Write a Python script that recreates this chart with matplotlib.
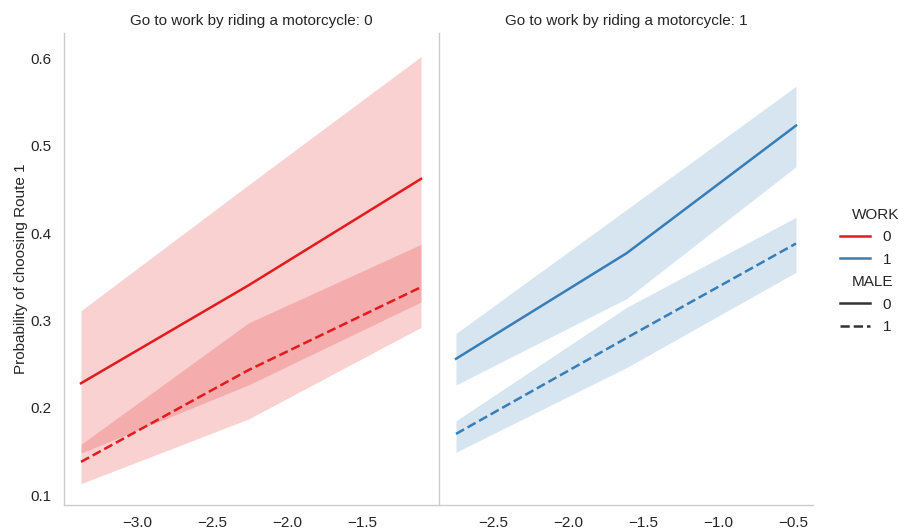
import matplotlib
matplotlib.use("Agg")
import matplotlib.pyplot as plt
from matplotlib.lines import Line2D
from matplotlib.ticker import FuncFormatter

plt.rcParams["font.family"] = ["Liberation Sans", "DejaVu Sans"]

# Panel 0: does not ride a motorcycle to work (WORK = 0)
x_moto0 = [-3.375, -2.26, -1.11]
p_moto0_male0 = [0.228, 0.340, 0.462]
lo_moto0_male0 = [0.113, 0.187, 0.292]
hi_moto0_male0 = [0.311, 0.455, 0.602]
p_moto0_male1 = [0.138, 0.243, 0.338]
lo_moto0_male1 = [0.148, 0.226, 0.321]
hi_moto0_male1 = [0.158, 0.297, 0.387]

# Panel 1: rides a motorcycle to work (WORK = 1)
x_moto1 = [-2.75, -1.61, -0.48]
p_moto1_male0 = [0.256, 0.377, 0.523]
lo_moto1_male0 = [0.226, 0.325, 0.476]
hi_moto1_male0 = [0.285, 0.427, 0.568]
p_moto1_male1 = [0.170, 0.280, 0.388]
lo_moto1_male1 = [0.149, 0.246, 0.355]
hi_moto1_male1 = [0.185, 0.315, 0.418]

panel_titles = ["Go to work by riding a motorcycle: 0",
                "Go to work by riding a motorcycle: 1"]
y_ticks = [0.1, 0.2, 0.3, 0.4, 0.5, 0.6]
x_ticks0 = [-3.0, -2.5, -2.0, -1.5]
x_ticks1 = [-2.5, -2.0, -1.5, -1.0, -0.5]

red = "#e41a1c"
blue = "#377eb8"
spine_col = "#cccccc"
text_col = "#262626"
lw = 1.8

fig = plt.figure(figsize=(8.99, 5.31), dpi=100)
ax0 = fig.add_axes([64 / 899, 1 - 505 / 531, 374 / 899, 472 / 531])
ax1 = fig.add_axes([439 / 899, 1 - 505 / 531, 374 / 899, 472 / 531], sharey=ax0)

panels = [
    (ax0, x_moto0, red,
     [(p_moto0_male0, lo_moto0_male0, hi_moto0_male0, "-"),
      (p_moto0_male1, lo_moto0_male1, hi_moto0_male1, "--")]),
    (ax1, x_moto1, blue,
     [(p_moto1_male0, lo_moto1_male0, hi_moto1_male0, "-"),
      (p_moto1_male1, lo_moto1_male1, hi_moto1_male1, "--")]),
]

for ax, xs, col, series in panels:
    for p, lo, hi, ls in series:
        ax.fill_between(xs, lo, hi, color=col, alpha=0.2, linewidth=0)
        ax.plot(xs, p, color=col, linestyle=ls, linewidth=lw)
    ax.margins(x=0.05)
    for side in ("top", "right"):
        ax.spines[side].set_visible(False)
    for side in ("left", "bottom"):
        ax.spines[side].set_color(spine_col)
        ax.spines[side].set_linewidth(1.0)
    ax.tick_params(length=0, labelsize=11, colors=text_col, pad=8)
    ax.grid(False)

ax0.set_ylim(0.0886, 0.629)
ax0.set_yticks(y_ticks)
ax0.set_xticks(x_ticks0)
ax1.set_xticks(x_ticks1)
ax1.tick_params(labelleft=False)
ax0.tick_params(axis="y", pad=9)

fmt = FuncFormatter(lambda v, pos: ("\u2212" if v < 0 else "") + f"{abs(v):.1f}")
for ax in (ax0, ax1):
    ax.xaxis.set_major_formatter(fmt)
ax0.yaxis.set_major_formatter(fmt)

ax0.set_title(panel_titles[0], fontsize=11, color=text_col, pad=6)
ax1.set_title(panel_titles[1], fontsize=11, color=text_col, pad=6)
ax0.set_ylabel("Probability of choosing Route 1", fontsize=11, color=text_col, labelpad=2)

# Legend: hue (WORK) and style (MALE) groups, each with its own header row
handles = [
    Line2D([], [], color="none", label=" "),
    Line2D([], [], color=red, lw=lw, label="0"),
    Line2D([], [], color=blue, lw=lw, label="1"),
    Line2D([], [], color="none", label=" "),
    Line2D([], [], color="#333333", lw=lw, ls="-", label="0"),
    Line2D([], [], color="#333333", lw=lw, ls="--", label="1"),
]
leg = fig.legend(handles=handles, loc="center left", bbox_to_anchor=(826 / 899, 1 - 271 / 531),
                 frameon=False, fontsize=11, handlelength=2.0, handletextpad=0.8,
                 labelspacing=0.56)
for t in leg.get_texts():
    t.set_color(text_col)

fig.canvas.draw()
renderer = fig.canvas.get_renderer()
inv = fig.transFigure.inverted()
texts = leg.get_texts()
for idx, header in ((0, "WORK"), (3, "MALE")):
    bb = texts[idx].get_window_extent(renderer)
    yc = inv.transform((0, (bb.y0 + bb.y1) / 2))[1]
    fig.text(852 / 899, yc, header, fontsize=11, color=text_col, ha="left", va="center")

fig.savefig("out.png", dpi=100, facecolor="white")
